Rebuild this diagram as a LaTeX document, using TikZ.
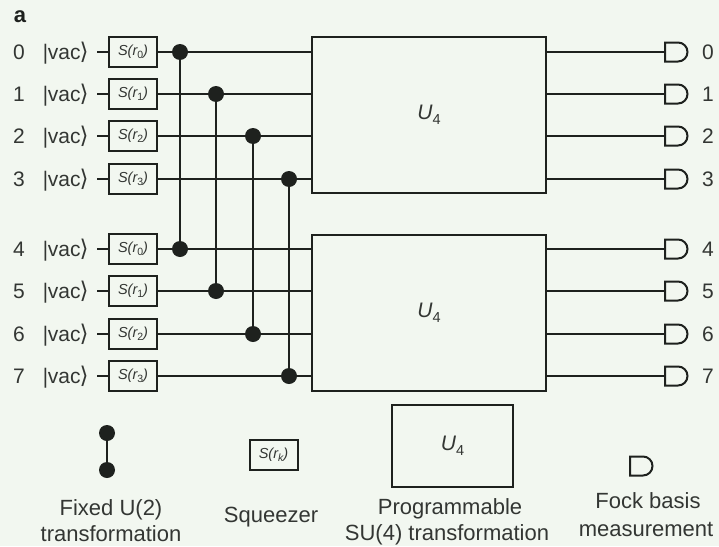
\documentclass[tikz,border=0pt]{standalone}
\usepackage{fontspec}
\setmainfont{Liberation Sans}
\newfontfamily\symfont{DejaVu Sans}
\definecolor{bgc}{HTML}{F2F7F0}
\definecolor{ink}{HTML}{1E211E}
\definecolor{txt}{HTML}{333633}
\tikzset{
  wire/.style={draw=ink,line width=2pt},
  squeezer/.style={draw=ink,line width=2pt,minimum width=48pt,minimum height=30pt,inner sep=0pt,text=txt,font=\fontsize{14.5}{14.5}\selectfont\itshape},
  ubox/.style={draw=ink,line width=2.2pt,inner sep=0pt,text=txt,font=\fontsize{21}{21}\selectfont},
  dotn/.style={circle,fill=ink,minimum size=16pt,inner sep=0pt},
  lab/.style={text=txt,font=\fontsize{21}{21}\selectfont,inner sep=0pt},
  captxt/.style={text=txt,font=\fontsize{22}{22}\selectfont,inner sep=0pt,align=center},
  det/.style={draw=ink,line width=2pt},
}
\newcommand{\detshape}[2]{\draw[det] (#1,#2-9.5) -- ++(13,0) arc[start angle=-90,end angle=90,radius=9.5] -- ++(-13,0) -- cycle;}
\newcommand{\ufour}{\textit{U}\raisebox{-5pt}{\fontsize{14.5}{14.5}\selectfont 4}}
\begin{document}
\begin{tikzpicture}[x=1pt,y=-1pt]
\fill[bgc] (0,0) rectangle (719,546);
\useasboundingbox (0,0) rectangle (719,546);
\node[text=ink,font=\fontsize{22}{22}\selectfont\bfseries,inner sep=0pt] (pa) at (20,17) {a};
\node[ubox,minimum width=234pt,minimum height=156pt] (ua) at (429,115) {\ufour};
\node[ubox,minimum width=234pt,minimum height=156pt] (ub) at (429,313) {\ufour};
\foreach \i/\y/\k/\X/\U in {0/52/0/180/a,1/94/1/216/a,2/136/2/253/a,3/179/3/289/a,4/249/0/180/b,5/291/1/216/b,6/334/2/253/b,7/376/3/289/b}{
  \node[lab] (n\i) at (19,\y) {\i};
  \node[lab,anchor=base west] (v\i) at (42,\y+7.5) {{\symfont\fontsize{20}{20}\selectfont |}\kern-1pt vac\kern-1pt{\symfont\fontsize{23}{23}\selectfont ⟩}};
  \node[squeezer] (s\i) at (133,\y) {S(r\raisebox{-3pt}{\fontsize{10.5}{10.5}\selectfont\upshape\k})};
  \node[dotn] (d\i) at (\X,\y) {};
  \coordinate (dt\i) at (665,\y);
  \coordinate (vr\i) at (97,\y);
  \draw[wire] (vr\i) -- (s\i.west);
  \draw[wire] (s\i.east) -- (d\i) -- (d\i -| u\U.west);
  \draw[wire] (d\i -| u\U.east) -- (dt\i);
  \detshape{665}{\y}
  \node[lab] (m\i) at (708,\y) {\i};
}
\draw[wire] (d0) -- (d4);
\draw[wire] (d1) -- (d5);
\draw[wire] (d2) -- (d6);
\draw[wire] (d3) -- (d7);
\node[dotn] (la) at (107,433) {};
\node[dotn] (lb) at (107,470) {};
\draw[wire] (la) -- (lb);
\node[squeezer,minimum width=48pt] (ls) at (273.5,455) {S(r\raisebox{-3pt}{\fontsize{10.5}{10.5}\selectfont k})};
\node[ubox,minimum width=121pt,minimum height=82pt] (lu) at (452.5,446) {\ufour};
\detshape{630}{466}
\node[captxt] (c1a) at (111,510) {Fixed U(2)};
\node[captxt] (c1b) at (111,534) {transformation};
\node[captxt] (c2) at (271,517) {Squeezer};
\node[captxt] (c3a) at (450,509) {Programmable};
\node[captxt] (c3b) at (447,535) {SU(4) transformation};
\node[captxt] (c4a) at (648,501) {Fock basis};
\node[captxt] (c4b) at (646,529) {measurement};
\end{tikzpicture}
\end{document}
